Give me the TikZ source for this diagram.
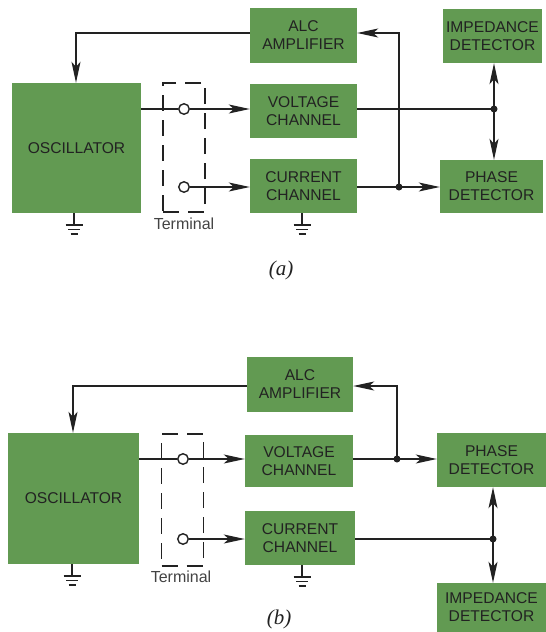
\documentclass[tikz,border=0pt]{standalone}
\usepackage{fontspec}
\setmainfont{Liberation Sans}
\newfontfamily\capfont{Liberation Serif}
\usetikzlibrary{arrows.meta}
\definecolor{boxgreen}{RGB}{98,154,82}
\definecolor{ink}{RGB}{34,34,34}
\tikzset{
  blk/.style={fill=boxgreen, draw=none, inner sep=0pt, align=center, text=ink,
    font=\fontsize{15.6}{18}\selectfont},
  wire/.style={draw=ink, line width=1.4pt},
  arr/.style={wire, -{Stealth[length=21pt,width=9pt,inset=5pt]}},
  term/.style={circle, draw=ink, line width=1.4pt, fill=white, minimum size=10.5pt, inner sep=0pt},
  tbox/.style={draw=ink, line width=1.4pt, dash pattern=on 16pt off 9pt, minimum width=42pt, minimum height=129pt, inner sep=0pt},
  tlabel/.style={text=ink!85, font=\fontsize{16}{18}\selectfont},
  jdot/.style={circle, fill=ink, minimum size=7pt, inner sep=0pt},
  captext/.style={text=ink, font=\capfont\itshape\fontsize{21}{23}\selectfont},
  gnd/.pic={
    \draw[draw=ink, line width=1.3pt] (0,0) -- (0,12);
    \draw[draw=ink, line width=1.5pt] (-8.5,12) -- (8.5,12);
    \draw[draw=ink, line width=1.5pt] (-6,16.5) -- (6,16.5);
    \draw[draw=ink, line width=1.7pt] (-3.5,21) -- (3.5,21);
  }
}
\begin{document}
\begin{tikzpicture}[x=1pt,y=-1pt]
\useasboundingbox[fill=white] (0,0) rectangle (546,632);

% ================= (a) =================
\node[blk, minimum width=129pt, minimum height=130pt] (oscA) at (76.5,148) {OSCILLATOR};
\node[blk, minimum width=107pt, minimum height=55pt] (alcA) at (303.5,35.5) {ALC\\AMPLIFIER};
\node[blk, minimum width=107pt, minimum height=54pt] (voltA) at (303.5,111) {VOLTAGE\\CHANNEL};
\node[blk, minimum width=107pt, minimum height=54pt] (currA) at (303.5,186) {CURRENT\\CHANNEL};
\node[blk, minimum width=99pt, minimum height=54pt] (impA) at (492.5,36) {IMPEDANCE\\DETECTOR};
\node[blk, minimum width=103pt, minimum height=53pt] (phA) at (491.5,186.5) {PHASE\\DETECTOR};

\node[tbox] (termA) at (184,147.5) {};
\node[tlabel] (termlabA) at (184,224) {Terminal};
\node[term] (c1A) at (184,109) {};
\node[term] (c2A) at (184,187) {};

\coordinate (fbA) at (76,33);
\draw[arr] (alcA.west |- fbA) -- (fbA) -- (oscA.north -| fbA);

\draw[wire] (oscA.east |- c1A) -- (c1A);
\draw[arr] (c1A) -- (voltA.west |- c1A);
\draw[arr] (c2A) -- (currA.west |- c2A);

\node[jdot] (jA) at (399,187) {};
\node[jdot] (kA) at (494,109) {};
\coordinate (tA) at (399,33);
\draw[arr] (currA.east |- jA) -- (phA.west |- jA);
\draw[arr] (jA.center) -- (tA) -- (alcA.east |- tA);
\draw[wire] (voltA.east |- kA) -- (kA.center);
\draw[arr] (kA.center) -- (impA.south -| kA);
\draw[arr] (kA.center) -- (phA.north -| kA);

\pic at ([xshift=-2.5pt]oscA.south) {gnd};
\pic at ([xshift=-1.5pt]currA.south) {gnd};

\node[captext] (capA) at (281,270) {(a)};

% ================= (b) =================
\node[blk, minimum width=131pt, minimum height=131pt] (oscB) at (73.5,498.5) {OSCILLATOR};
\node[blk, minimum width=106pt, minimum height=55pt] (alcB) at (300,384.5) {ALC\\AMPLIFIER};
\node[blk, minimum width=108pt, minimum height=52pt] (voltB) at (299,461) {VOLTAGE\\CHANNEL};
\node[blk, minimum width=110pt, minimum height=54pt] (currB) at (300,538) {CURRENT\\CHANNEL};
\node[blk, minimum width=109pt, minimum height=54pt] (phB) at (491.5,460) {PHASE\\DETECTOR};
\node[blk, minimum width=109pt, minimum height=49pt] (impB) at (491.5,607.5) {IMPEDANCE\\DETECTOR};

\node[tbox, minimum height=132pt] (termB) at (182.5,500) {};
\node[tlabel] (termlabB) at (181,577) {Terminal};
\node[term] (c1B) at (183,459) {};
\node[term] (c2B) at (183,539) {};

\coordinate (fbB) at (73,386);
\draw[arr] (alcB.west |- fbB) -- (fbB) -- (oscB.north -| fbB);

\draw[wire] (oscB.east |- c1B) -- (c1B);
\draw[arr] (c1B) -- (voltB.west |- c1B);
\draw[arr] (c2B) -- (currB.west |- c2B);

\node[jdot] (jB) at (397,459) {};
\node[jdot] (kB) at (493,539) {};
\coordinate (tB) at (397,386);
\draw[arr] (voltB.east |- jB) -- (phB.west |- jB);
\draw[arr] (jB.center) -- (tB) -- (alcB.east |- tB);
\draw[wire] (currB.east |- kB) -- (kB.center);
\draw[arr] (kB.center) -- (phB.south -| kB);
\draw[arr] (kB.center) -- (impB.north -| kB);

\pic at ([xshift=-1.5pt]oscB.south) {gnd};
\pic at ([xshift=2pt]currB.south) {gnd};

\node[captext] (capB) at (279,619) {(b)};
\end{tikzpicture}
\end{document}
